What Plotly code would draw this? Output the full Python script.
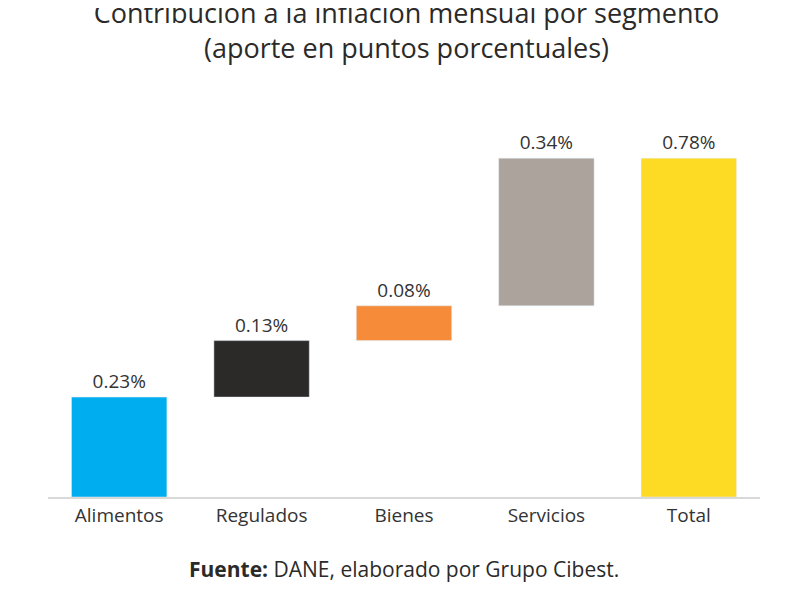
import plotly.graph_objects as go

categories = ["Alimentos", "Regulados", "Bienes", "Servicios", "Total"]
values = [0.23, 0.13, 0.08, 0.34, 0.78]
colors = ["#00AEEF", "#2B2A29", "#F68B39", "#ABA39C", "#FDDA24"]
labels = ["0.23%", "0.13%", "0.08%", "0.34%", "0.78%"]

bases = []
acc = 0
for i, v in enumerate(values):
    if i == len(values) - 1:
        bases.append(0)
    else:
        bases.append(acc)
        acc += v

fig = go.Figure(go.Bar(
    x=categories, y=values, base=bases, marker_color=colors, width=0.67,
    text=labels, textposition="outside", cliponaxis=False,
    textfont=dict(size=19, color="#333333"),
))
fig.update_layout(
    width=797, height=589, plot_bgcolor="white", paper_bgcolor="white",
    margin=dict(l=40, r=45, t=98, b=100),
    font=dict(family="Open Sans", color="#333333"),
    title=dict(text="Contribución a la inflación mensual por segmento<br>(aporte en puntos porcentuales)",
               x=0.5, xanchor="center", y=0.975, yanchor="top",
               font=dict(size=27, color="#2B2A29")),
    showlegend=False,
    annotations=[dict(text="<b>Fuente:</b> DANE, elaborado por Grupo Cibest.", xref="paper", yref="paper",
                      x=0.5, y=0, yshift=-72, xanchor="center", yanchor="middle", showarrow=False,
                      font=dict(size=21, color="#2B2A29"))],
)
fig.update_xaxes(showline=True, linecolor="#D9D9D9", linewidth=1.5, tickfont=dict(size=19, color="#333333"),
                 ticks="", range=[-0.5, 4.5])
fig.update_yaxes(visible=False, range=[0, 0.9], showgrid=False)
fig.write_html("out.html")
